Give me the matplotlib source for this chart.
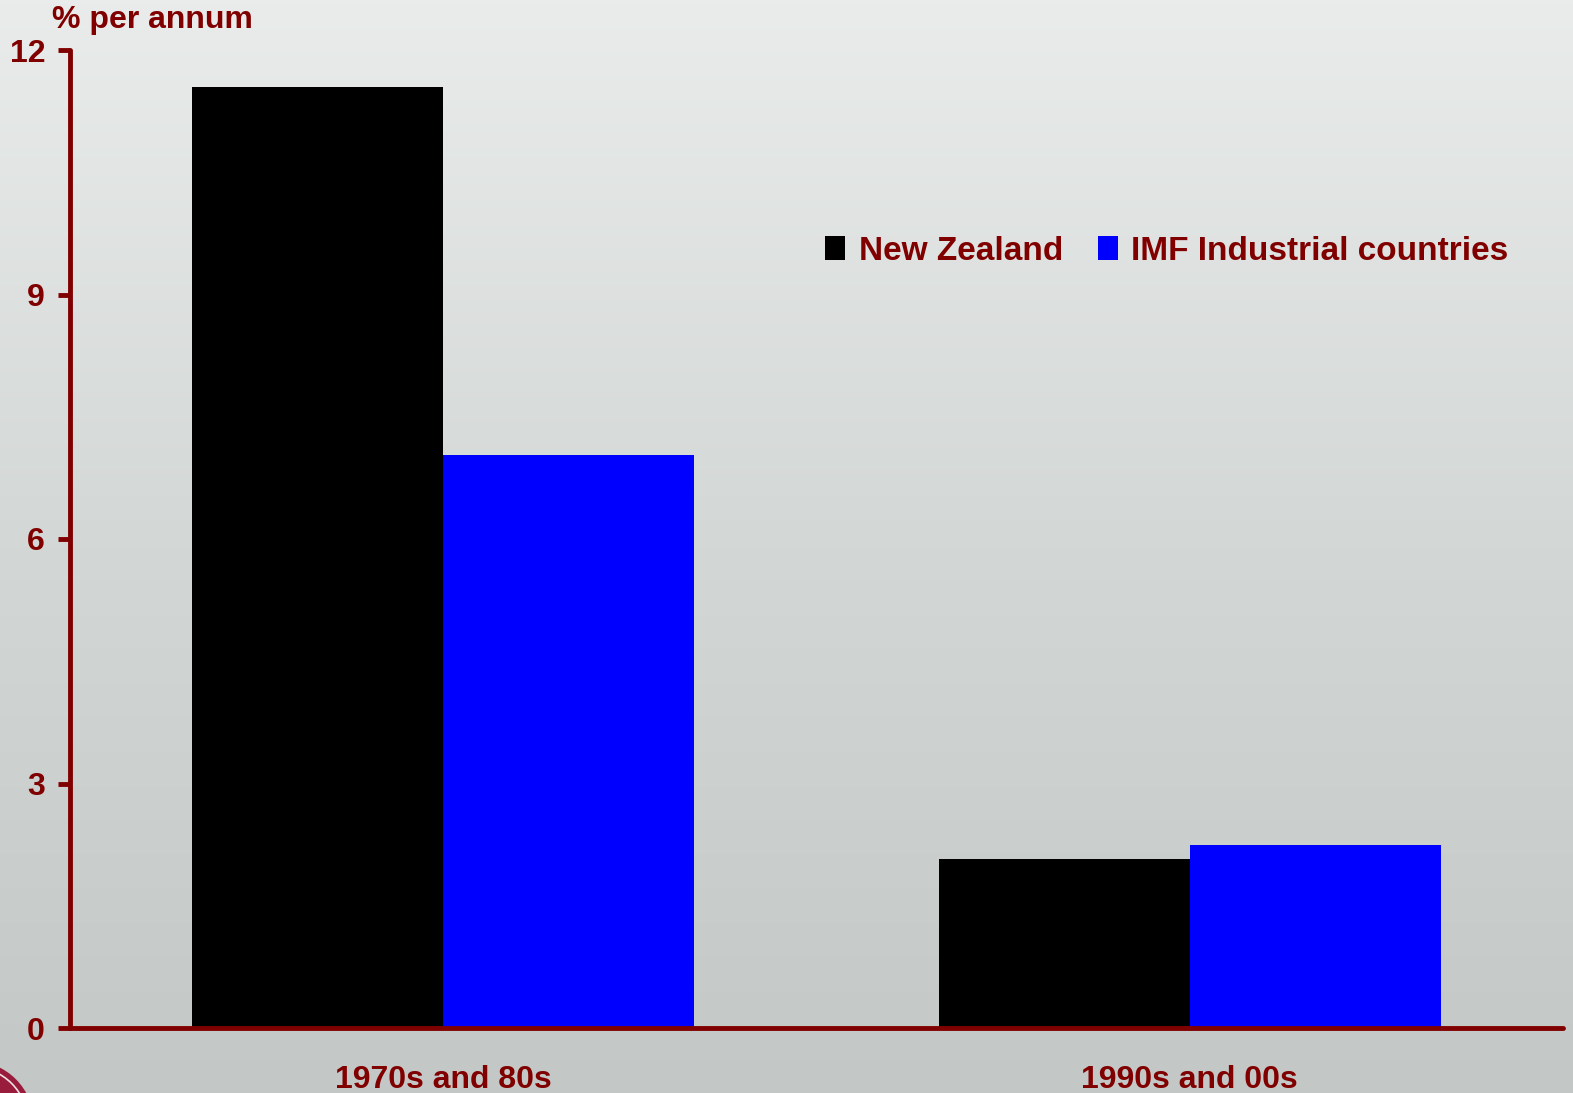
import matplotlib
matplotlib.use('Agg')
import matplotlib.pyplot as plt
from matplotlib.patches import Patch, Circle
import numpy as np

plt.rcParams['font.family'] = ['Liberation Sans', 'DejaVu Sans']

periods = ["1970s and 80s", "1990s and 00s"]
new_zealand = [11.55, 2.07]
imf_industrial = [7.03, 2.25]
yticks = [0, 3, 6, 9, 12]

red = "#800000"
fs = 23
W, H = 1573, 1093
fig = plt.figure(figsize=(W / 100, H / 100), dpi=100)

# background gradient
bg = fig.add_axes([0, 0, 1, 1], zorder=0)
grad = np.linspace(0, 1, 256).reshape(-1, 1)
cmap = matplotlib.colors.LinearSegmentedColormap.from_list(
    "bg", ["#c3c8c7", "#d3d7d6", "#e9ecea"])
bg.imshow(grad, aspect="auto", cmap=cmap, origin="lower", extent=[0, W, 0, H])
# bit of the logo peeking in at bottom left
bg.add_patch(Circle((-28, -30), 62, facecolor="#9a1c3c", edgecolor="none"))
bg.add_patch(Circle((-28, -30), 56, facecolor="none", edgecolor="#f0e0e4", lw=1.2))
bg.set_xlim(0, W)
bg.set_ylim(0, H)
bg.axis("off")

ax = fig.add_axes([70 / W, 1 - 1028 / H, 1493 / W, 978 / H], zorder=1)
ax.patch.set_alpha(0)

x = np.arange(len(periods))
w = 0.336
ax.bar(x - w / 2, new_zealand, w, color="black", label="New Zealand")
ax.bar(x + w / 2, imf_industrial, w, color="#0000ff", label="IMF Industrial countries")

ax.set_xlim(-0.5, 1.5)
ax.set_ylim(0, 12)
ax.set_yticks(yticks)
ax.set_xticks(x)
ax.set_xticklabels(periods)

for s in ["top", "right"]:
    ax.spines[s].set_visible(False)
for s in ["left", "bottom"]:
    ax.spines[s].set_color(red)
    ax.spines[s].set_linewidth(3.5)
    ax.spines[s].set_capstyle("round")
ax.spines["bottom"].set_zorder(5)

ax.tick_params(axis="y", colors=red, length=9, width=3.5, labelsize=fs, pad=9)
ax.tick_params(axis="x", length=0, colors=red, labelsize=fs, pad=27)
for lab in ax.get_yticklabels() + ax.get_xticklabels():
    lab.set_fontweight("bold")
    lab.set_color(red)

fig.text(52 / W, 1 - 20 / H, "% per annum", color=red, fontsize=fs,
         fontweight="bold", va="center", ha="left")

handles = [Patch(facecolor="black"), Patch(facecolor="#0000ff")]
leg = ax.legend(handles, ["New Zealand", "IMF Industrial countries"],
                loc="center left", bbox_to_anchor=((812 - 70) / 1493, (1028 - 251) / 978),
                ncol=2, frameon=False, handlelength=0.6, handleheight=0.75,
                handletextpad=0.4, columnspacing=1.05, borderaxespad=0,
                prop={"size": 24, "weight": "bold"})
for t in leg.get_texts():
    t.set_color(red)

fig.savefig("out.png", dpi=100)
